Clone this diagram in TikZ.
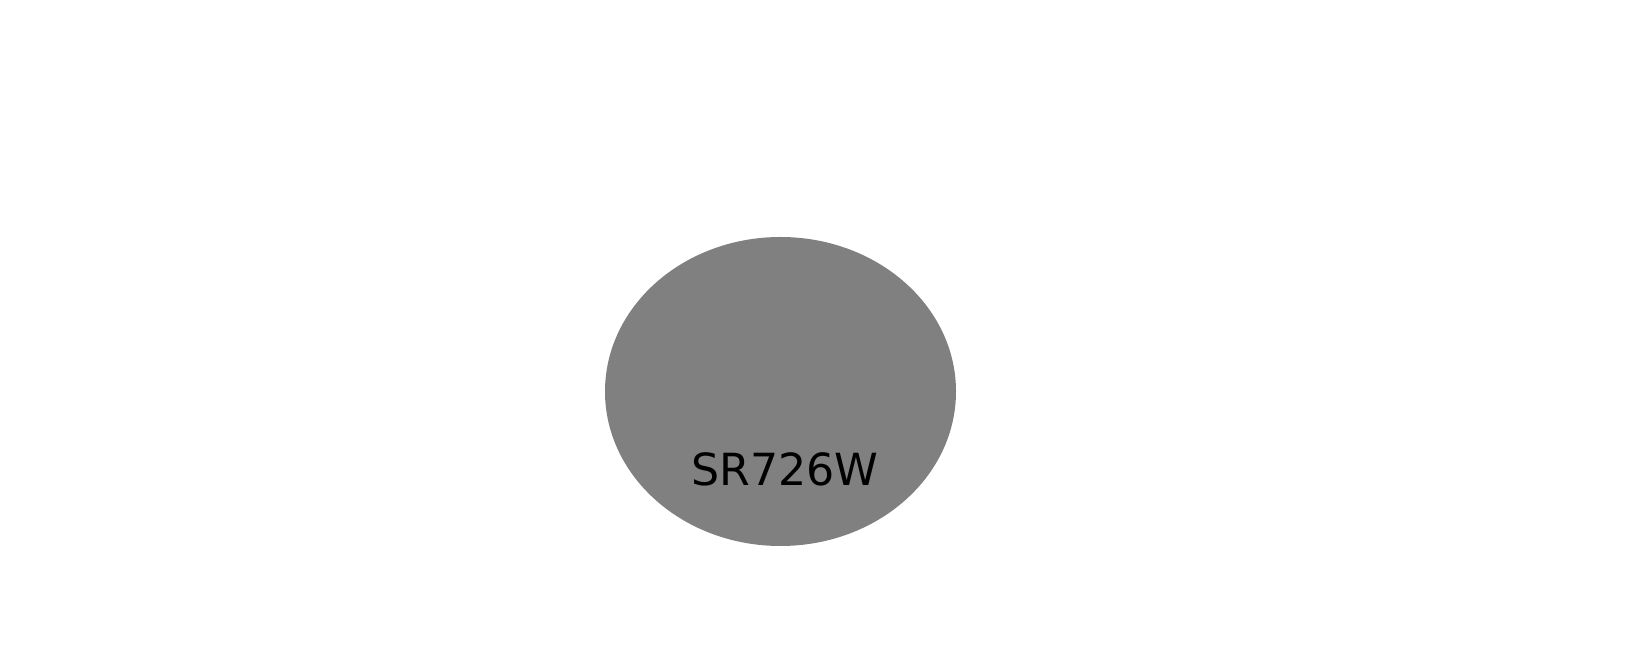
\documentclass[tikz,border=0pt]{standalone}
\usepackage{fontspec}
\setmainfont{DejaVu Sans}
\usetikzlibrary{shapes.geometric}
\definecolor{nodegray}{HTML}{808080}
\tikzset{
  site/.style={ellipse,fill=nodegray,draw=none,minimum width=3.51cm,minimum height=3.09cm,inner sep=0pt},
  sitelabel/.style={anchor=base,font=\fontsize{12.6}{15}\selectfont,text=black,inner sep=0pt}
}
\begin{document}
\begin{tikzpicture}
\useasboundingbox (0,0) rectangle (16.4,6.64);
\node[site] (sr) at (7.805,2.725) {};
\node[sitelabel] (srlabel) at (7.85,1.78) {SR726W};
\end{tikzpicture}
\end{document}
